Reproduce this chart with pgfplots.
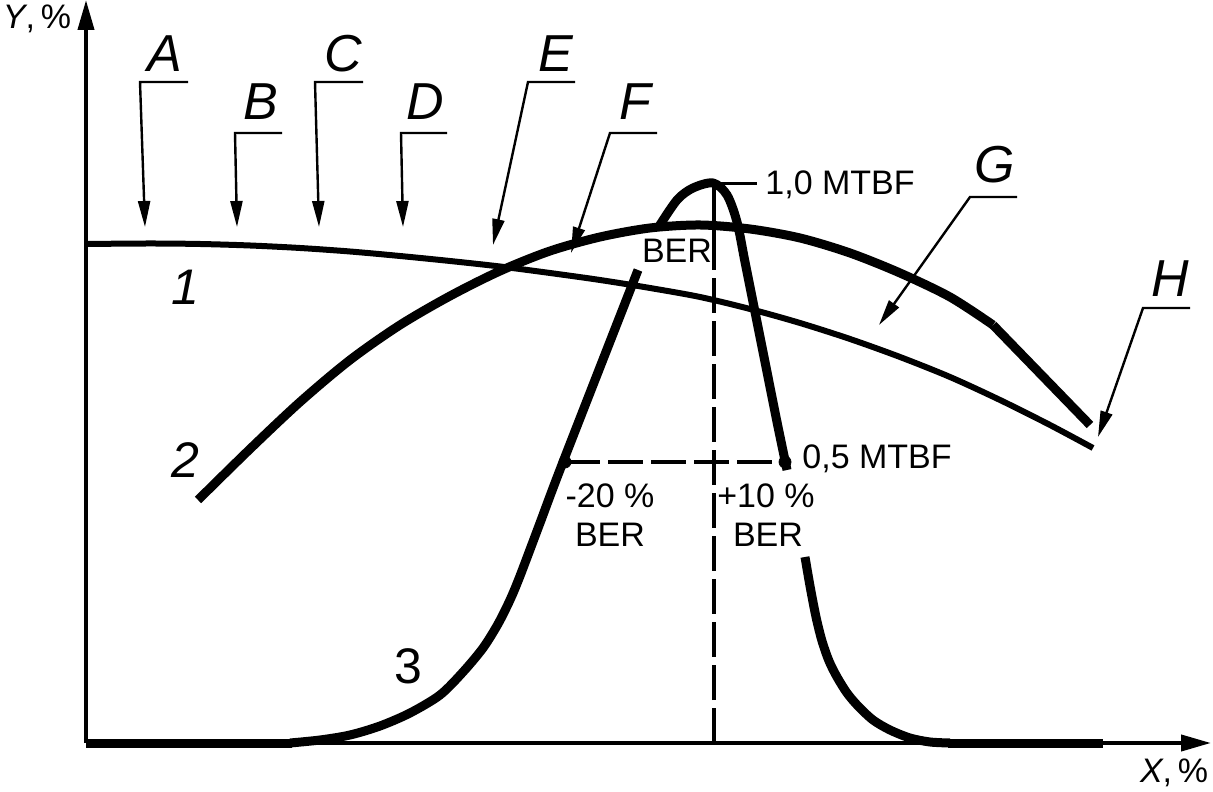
\documentclass[border=0pt]{standalone}
\usepackage{fontspec}
\setmainfont{Liberation Sans}
\usepackage{pgfplots}
\pgfplotsset{compat=1.18}
\usetikzlibrary{arrows.meta}

\tikzset{
  lett/.style={font=\fontsize{26}{30}\selectfont\itshape, anchor=base, inner sep=0pt},
  num/.style={font=\fontsize{25}{30}\selectfont\itshape, anchor=base, inner sep=0pt},
  lbl/.style={font=\fontsize{17}{20}\selectfont, anchor=base, inner sep=0pt},
  leader/.style={line width=1.2pt, -{Triangle[length=13pt,width=6pt]}, line join=miter},
}

\begin{document}
\begin{tikzpicture}
\begin{axis}[
  x=0.5pt, y=0.5pt,
  xmin=86, xmax=1211, ymin=48, ymax=791,
  axis lines=left,
  axis line style={line width=2pt, -{Triangle[length=15pt,width=8pt]}},
  xtick=\empty, ytick=\empty,
  clip=false,
  every axis plot/.append style={black, line join=round},
]
\coordinate (bl) at (axis cs:0,0);
\coordinate (tr) at (axis cs:1213,791);

% curve 1
\addplot[line width=3pt, smooth] coordinates {
  (86,547) (150,547.5) (200,547) (250,545.5) (300,543) (350,539.5) (400,535)
  (450,530) (500,524.5) (550,518) (600,511) (650,503) (700,494) (750,482)
  (800,468) (850,452) (900,434) (950,414) (1000,391) (1050,366) (1093,343)
};

% curve 2
\addplot[line width=4.5pt, smooth] coordinates {
  (198,291) (250,342) (300,389) (350,431) (400,466) (450,495) (500,520)
  (550,540) (600,554) (650,563) (700,566) (750,562) (800,553) (850,538)
  (900,518) (950,494) (993,466)
};
\addplot[line width=4.5pt] coordinates {(993,466) (1090,366)};

% curve 3
\addplot[line width=4.5pt] coordinates {(86,48) (292,48)};
\addplot[line width=4.5pt, smooth] coordinates {
  (290,48) (320,51) (350,56) (380,65) (410,78) (440,96) (463,119)
  (483,143) (498,167) (510,191) (520,215) (540,268) (563,329) (638,521)
};
\addplot[line width=4.5pt, smooth] coordinates {
  (658,563) (677,591) (693,603) (713,608) (727,596) (737,569) (745,529)
  (755,479) (767,419) (777,369) (787,321)
};
\addplot[line width=4.5pt, smooth] coordinates {
  (805,234) (810,205) (816,174) (822,150) (829,130) (837,114) (847,98)
  (858,85) (873,71) (890,61) (910,53) (930,49) (950,48)
};
\addplot[line width=4.5pt] coordinates {(948,48) (1103,48)};

% BER lines
\addplot[line width=2pt] coordinates {(714,608) (714,526)};
\addplot[line width=2pt, dash pattern=on 17.5pt off 4pt] coordinates {(714,48) (714,526)};
\addplot[line width=2pt, dash pattern=on 17.5pt off 4pt] coordinates {(565,329) (785,329)};
\addplot[line width=1.5pt] coordinates {(713,607) (757,607)};
\addplot[only marks, mark=*, mark size=3pt] coordinates {(565,329) (785,329)};

% leaders
\addplot[leader] coordinates {(188,709) (140,709) (145,564)};
\addplot[leader] coordinates {(282,658) (235,658) (237,564)};
\addplot[leader] coordinates {(363,709) (315,709) (319,564)};
\addplot[leader] coordinates {(447,658) (401,658) (403,564)};
\addplot[leader] coordinates {(575,709) (528,709) (493,546)};
\addplot[leader] coordinates {(657,658) (610,658) (571,538)};
\addplot[leader] coordinates {(1017,594) (970,594) (879,466)};
\addplot[leader] coordinates {(1190,483) (1143,483) (1098,354)};

\node[lett] at (axis cs:165,719) {A};
\node[lett] at (axis cs:261,671) {B};
\node[lett] at (axis cs:343,719) {C};
\node[lett] at (axis cs:425,671) {D};
\node[lett] at (axis cs:556,719) {E};
\node[lett] at (axis cs:635,671) {F};
\node[lett] at (axis cs:995,608) {G};
\node[lett] at (axis cs:1170,494) {H};

\node[num] at (axis cs:185,486) {1};
\node[num] at (axis cs:185,313) {2};
\node[num, font=\fontsize{25}{30}\selectfont] at (axis cs:408,108) {3};

\node[lbl, anchor=base west] at (axis cs:765,596) {1,0 MTBF};
\node[lbl] at (axis cs:677,528) {BER};
\node[lbl, anchor=base west] at (axis cs:802,322) {0,5 MTBF};
\node[lbl] at (axis cs:610,283) {-20 \%};
\node[lbl] at (axis cs:610,244) {BER};
\node[lbl] at (axis cs:766,283) {+10 \%};
\node[lbl] at (axis cs:768,244) {BER};

\node[font=\fontsize{17}{20}\selectfont, anchor=base, inner sep=0pt] at (axis cs:37,762) {\textit{Y},\,\%};
\node[font=\fontsize{17}{20}\selectfont, anchor=base, inner sep=0pt] at (axis cs:1174,9) {\textit{X},\,\%};
\end{axis}
\pgfresetboundingbox
\path[use as bounding box] (bl) rectangle (tr);
\end{tikzpicture}
\end{document}
